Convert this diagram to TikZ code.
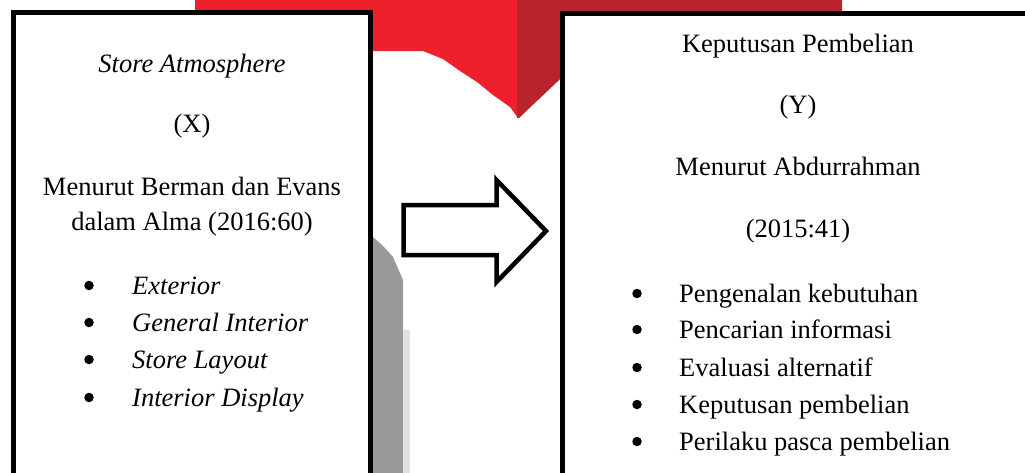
\documentclass[tikz,border=0pt]{standalone}
\usepackage{fontspec}
\setmainfont{Liberation Serif}
\definecolor{brightred}{RGB}{238,32,43}
\definecolor{darkred}{RGB}{183,36,43}
\definecolor{midgray}{RGB}{153,153,153}
\definecolor{lightgray2}{RGB}{226,226,226}
\tikzset{
  box/.style={draw=black, line width=5pt, fill=white},
  txt/.style={anchor=base, inner sep=0pt, font=\fontsize{26.5}{32}\selectfont},
  bul/.style={circle, fill=black, inner sep=0pt, minimum size=9.5pt},
  item/.style={anchor=base west, inner sep=0pt, font=\fontsize{26.5}{32}\selectfont},
  blockarrow/.style={draw=black, line width=4.5pt, fill=white, line join=miter}
}
\begin{document}
\begin{tikzpicture}[x=1pt,y=-1pt]
\useasboundingbox (0,0) rectangle (1025,472);
% red background shape
\fill[brightred] (195,-2) -- (518,-2) -- (518,118) -- (510,107) -- (493,95)
  -- (477,82) -- (460,71) -- (443,59) -- (423,51) -- (195,51) -- cycle;
\fill[darkred] (517,-2) -- (842,-2) -- (842,40) -- (600,40) -- (557,82) -- (519,118) -- (517,118) -- cycle;
% gray shadow shape
\fill[midgray] (372,236) -- (383,246) -- (393,257) -- (403,280) -- (403,480) -- (372,480) -- cycle;
\fill[lightgray2] (403,330) -- (410,330) -- (410,480) -- (403,480) -- cycle;
% boxes
\draw[box] (13.5,480) -- (13.5,12.5) -- (370.5,12.5) -- (370.5,480);
\draw[box] (562,480) -- (562,13.5) -- (1035,13.5);
% block arrow
\draw[blockarrow] (403.5,205) -- (496.5,205) -- (496.5,180) -- (546,231)
  -- (496.5,282) -- (496.5,255) -- (403.5,255) -- cycle;
% left box text
\node[txt] (sa) at (192,72) {\itshape Store Atmosphere};
\node[txt] (x) at (192,132) {(X)};
\node[txt] (m1) at (192,195) {Menurut Berman dan Evans};
\node[txt] (m2) at (192,230) {dalam Alma (2016:60)};
\node[bul] (b1) at (89,285.5) {};
\node[bul] (b2) at (89,322.5) {};
\node[bul] (b3) at (89,359.5) {};
\node[bul] (b4) at (89,397.5) {};
\node[item] (i1) at (132,294) {\itshape Exterior};
\node[item] (i2) at (132,331) {\itshape General Interior};
\node[item] (i3) at (132,368) {\itshape Store Layout};
\node[item] (i4) at (132,406) {\itshape Interior Display};
% right box text
\node[txt] (kp) at (798,52) {Keputusan Pembelian};
\node[txt] (y) at (798,113) {(Y)};
\node[txt] (ma) at (798,175) {Menurut Abdurrahman};
\node[txt] (yr) at (798,237) {(2015:41)};
\node[bul] (c1) at (637,293.5) {};
\node[bul] (c2) at (637,329.5) {};
\node[bul] (c3) at (637,367.5) {};
\node[bul] (c4) at (637,404.5) {};
\node[bul] (c5) at (637,441.5) {};
\node[item] (j1) at (679,302) {Pengenalan kebutuhan};
\node[item] (j2) at (679,338) {Pencarian informasi};
\node[item] (j3) at (679,376) {Evaluasi alternatif};
\node[item] (j4) at (679,413) {Keputusan pembelian};
\node[item] (j5) at (679,450) {Perilaku pasca pembelian};
\end{tikzpicture}
\end{document}
